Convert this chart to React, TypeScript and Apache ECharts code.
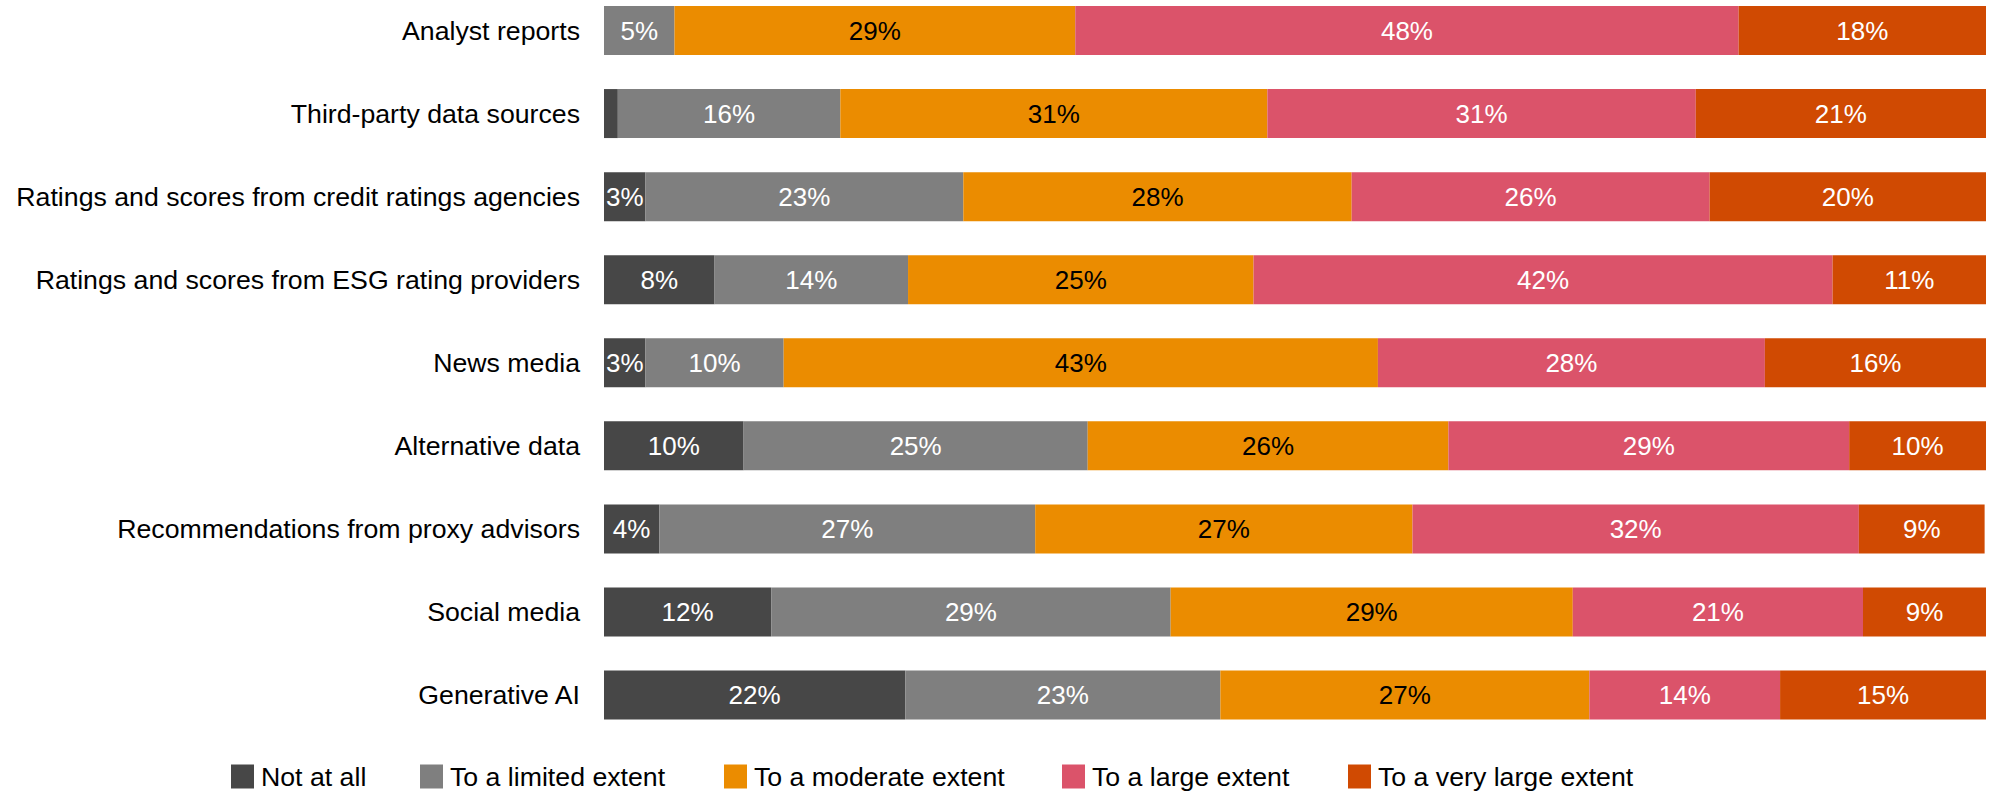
import React, { useEffect, useRef } from "react";
import * as echarts from "echarts";

const categories = [
  "Analyst reports",
  "Third-party data sources",
  "Ratings and scores from credit ratings agencies",
  "Ratings and scores from ESG rating providers",
  "News media",
  "Alternative data",
  "Recommendations from proxy advisors",
  "Social media",
  "Generative AI",
];

const seriesNames = [
  "Not at all",
  "To a limited extent",
  "To a moderate extent",
  "To a large extent",
  "To a very large extent",
];

const notAtAll = [0, 1.0, 3.0, 8.0, 3.0, 10.1, 4.0, 12.1, 21.8];
const limited = [5.1, 16.1, 23.0, 14.0, 10.0, 24.9, 27.2, 28.9, 22.8];
const moderate = [29.0, 30.9, 28.1, 25.0, 43.0, 26.1, 27.3, 29.1, 26.7];
const large = [48.0, 31.0, 25.9, 41.9, 28.0, 29.0, 32.3, 21.0, 13.8];
const veryLarge = [18.0, 21.0, 20.0, 11.1, 16.1, 10.0, 9.1, 9.0, 15.0];

const colors = ["#474747", "#7f7f7f", "#eb8c00", "#db536a", "#d04a02"];
const labelColors = ["#ffffff", "#ffffff", "#000000", "#ffffff", "#ffffff"];
const legendLefts = [231, 420, 724, 1062, 1348];

const FONT = "'Liberation Sans', Arial, sans-serif";

export default function App() {
  const ref = useRef<HTMLDivElement>(null);

  useEffect(() => {
    document.body.style.margin = "0";
    if (!ref.current) return;
    const chart = echarts.init(ref.current, undefined, { renderer: "svg" });
    const values = [notAtAll, limited, moderate, large, veryLarge];
    chart.setOption({
      animation: false,
      backgroundColor: "#ffffff",
      textStyle: { fontFamily: FONT },
      grid: { left: 604, right: 14, top: 30.5, height: 664.5, containLabel: false },
      xAxis: {
        type: "value",
        min: 0,
        max: 100,
        show: false,
      },
      yAxis: {
        type: "category",
        data: categories,
        inverse: true,
        boundaryGap: false,
        axisLine: { show: false },
        axisTick: { show: false },
        splitLine: { show: false },
        axisLabel: {
          color: "#000000",
          fontSize: 26.7,
          fontFamily: FONT,
          margin: 24,
        },
      },
      legend: seriesNames.map((name, i) => ({
        left: legendLefts[i],
        top: 763,
        itemWidth: 23,
        itemHeight: 24,
        icon: "rect",
        padding: 0,
        textStyle: { color: "#000000", fontSize: 26.7, fontFamily: FONT, padding: [0, 0, 0, 2] },
        data: [name],
      })),
      series: seriesNames.map((name, i) => ({
        name,
        type: "bar",
        stack: "total",
        barWidth: 49,
        data: values[i],
        itemStyle: { color: colors[i] },
        label: {
          show: true,
          position: "inside",
          color: labelColors[i],
          fontSize: 26,
          fontFamily: FONT,
          formatter: (p: any) => (p.value >= 2 ? Math.round(p.value) + "%" : ""),
        },
      })),
    });
    return () => chart.dispose();
  }, []);

  return (
    <div
      ref={ref}
      style={{ position: "absolute", left: 0, top: 0, width: 2000, height: 792 }}
    />
  );
}
